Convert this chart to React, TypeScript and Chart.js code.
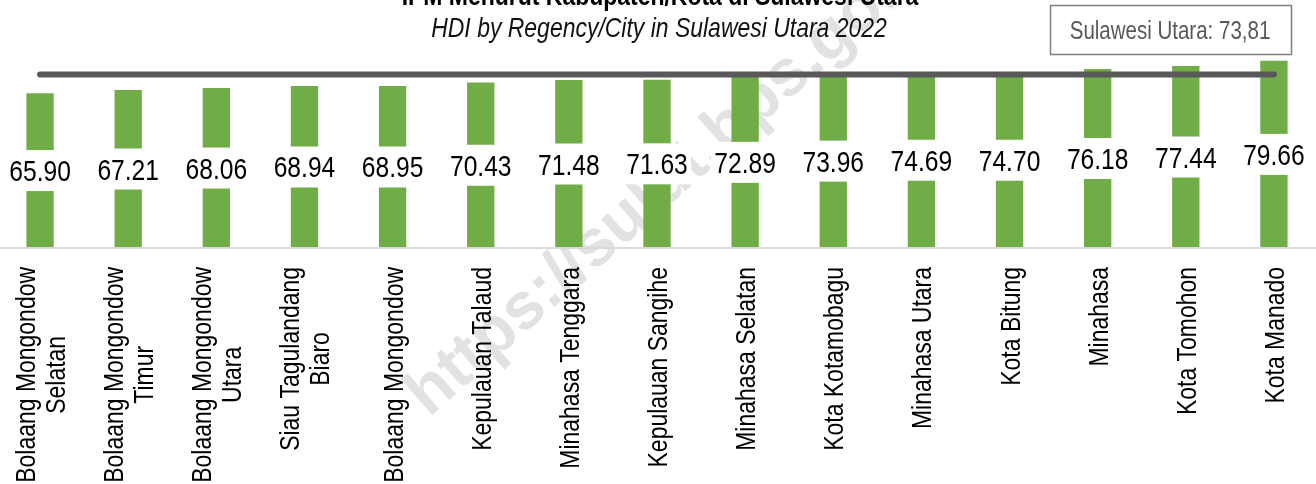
import React, { useEffect, useRef } from "react";
import { Chart, registerables } from "chart.js";

Chart.register(...registerables);

const categories: (string | string[])[] = [
  ["Bolaang Mongondow", "Selatan"],
  ["Bolaang Mongondow", "Timur"],
  ["Bolaang Mongondow", "Utara"],
  ["Siau Tagulandang", "Biaro"],
  "Bolaang Mongondow",
  "Kepulauan Talaud",
  "Minahasa Tenggara",
  "Kepulauan Sangihe",
  "Minahasa Selatan",
  "Kota Kotamobagu",
  "Minahasa Utara",
  "Kota Bitung",
  "Minahasa",
  "Kota Tomohon",
  "Kota Manado",
];

const hdiValues: number[] = [
  65.9, 67.21, 68.06, 68.94, 68.95, 70.43, 71.48, 71.63, 72.89, 73.96, 74.69,
  74.7, 76.18, 77.44, 79.66,
];

const provinceValue = 73.81;
const titleText = "IPM Menurut Kabupaten/Kota di Sulawesi Utara";
const subtitleText = "HDI by Regency/City in Sulawesi Utara 2022";
const provinceLabel = "Sulawesi Utara: 73,81";
const watermarkText = "https://sulut.bps.go.id";

// canvas is shifted 4px to the left of the page
const OFF = 4;

let narrowAvail: boolean | null = null;
function detectNarrow(ctx: CanvasRenderingContext2D) {
  if (narrowAvail !== null) return narrowAvail;
  ctx.save();
  ctx.font = '100px "Liberation Sans Narrow"';
  const a = ctx.measureText("abcdefghijklmnop").width;
  ctx.font = '100px "Liberation Sans"';
  const b = ctx.measureText("abcdefghijklmnop").width;
  ctx.restore();
  narrowAvail = a < b * 0.9;
  return narrowAvail;
}

type TOpts = {
  size: number;
  weight?: string;
  italic?: boolean;
  color?: string;
  align?: CanvasTextAlign;
  baseline?: CanvasTextBaseline;
  angle?: number;
  narrow?: boolean;
};

function setFont(ctx: CanvasRenderingContext2D, o: TOpts) {
  const nar = o.narrow !== false;
  const useNarrow = nar && detectNarrow(ctx);
  const family = useNarrow
    ? '"Liberation Sans Narrow", "Arial Narrow", sans-serif'
    : '"Liberation Sans", Arial, sans-serif';
  ctx.font = `${o.italic ? "italic " : ""}${o.weight || "normal"} ${o.size}px ${family}`;
  return nar && !useNarrow ? 0.82 : 1;
}

function measure(ctx: CanvasRenderingContext2D, text: string, o: TOpts) {
  ctx.save();
  const sx = setFont(ctx, o);
  const w = ctx.measureText(text).width * sx;
  ctx.restore();
  return w;
}

function drawText(
  ctx: CanvasRenderingContext2D,
  text: string,
  x: number,
  y: number,
  o: TOpts
) {
  ctx.save();
  ctx.translate(x, y);
  if (o.angle) ctx.rotate(o.angle);
  const sx = setFont(ctx, o);
  ctx.scale(sx, 1);
  ctx.fillStyle = o.color || "#000";
  ctx.textAlign = o.align || "center";
  ctx.textBaseline = o.baseline || "alphabetic";
  ctx.fillText(text, 0, 0);
  ctx.restore();
}

const decorPlugin = {
  id: "decor",
  beforeDatasetsDraw(chart: any) {
    const ctx: CanvasRenderingContext2D = chart.ctx;
    // watermark
    const ang = (-41.5 * Math.PI) / 180;
    drawText(ctx, watermarkText, 675 + OFF, 176, {
      size: 66,
      weight: "bold",
      color: "rgba(170,170,170,0.34)",
      angle: ang,
      baseline: "middle",
      narrow: false,
    });
  },
  afterDatasetsDraw(chart: any) {
    const ctx: CanvasRenderingContext2D = chart.ctx;
    const area = chart.chartArea;
    const xScale = chart.scales.x;
    const yScale = chart.scales.y;
    const barMeta = chart.getDatasetMeta(1);

    // baseline axis
    ctx.save();
    ctx.strokeStyle = "#d9d9d9";
    ctx.lineWidth = 2;
    ctx.beginPath();
    ctx.moveTo(0, area.bottom);
    ctx.lineTo(chart.width, area.bottom);
    ctx.stroke();
    ctx.restore();

    // value labels with white boxes
    const base = yScale.getPixelForValue(0);
    hdiValues.forEach((v, i) => {
      const el = barMeta.data[i];
      const x = el.x;
      const mid = (el.y + base) / 2;
      ctx.save();
      ctx.fillStyle = "#ffffff";
      ctx.fillRect(x - 34, mid - 20.5, 68, 41);
      ctx.restore();
      drawText(ctx, v.toFixed(2), x, mid + 10.5, { size: 30, color: "#000" });
    });

    // category labels (rotated)
    const top = 267;
    const lineH = 30;
    categories.forEach((c, i) => {
      const lines = Array.isArray(c) ? c : [c];
      const x = xScale.getPixelForValue(i);
      const o: TOpts = { size: 28, color: "#000" };
      const maxW = Math.max(...lines.map((l) => measure(ctx, l, o)));
      const n = lines.length;
      lines.forEach((l, k) => {
        const off = (k - (n - 1) / 2) * lineH;
        ctx.save();
        ctx.translate(x + off, top);
        ctx.rotate(-Math.PI / 2);
        drawText(ctx, l, -maxW / 2, 10, { ...o, align: "center" });
        ctx.restore();
      });
    });

    // title & subtitle
    drawText(ctx, titleText, 660 + OFF, 5, { size: 28, weight: "bold", color: "#000" });
    drawText(ctx, subtitleText, 659 + OFF, 37, { size: 28, italic: true, color: "#111" });

    // province box
    ctx.save();
    ctx.strokeStyle = "#7f7f7f";
    ctx.lineWidth = 1.5;
    ctx.strokeRect(1050.5 + OFF, 5.5, 241, 49);
    ctx.restore();
    drawText(ctx, provinceLabel, 1170 + OFF, 39, { size: 25, color: "#595959" });
  },
};

export default function App() {
  const ref = useRef<HTMLCanvasElement | null>(null);
  useEffect(() => {
    document.body.style.overflow = "hidden";
    const canvas = ref.current;
    if (!canvas) return;
    const chart = new Chart(canvas, {
      type: "bar",
      data: {
        labels: categories.map((c) => (Array.isArray(c) ? c.join(" ") : c)),
        datasets: [
          {
            type: "line",
            data: categories.map(() => provinceValue),
            borderColor: "#595959",
            borderWidth: 6,
            borderCapStyle: "round",
            pointRadius: 0,
            fill: false,
            order: 0,
          } as any,
          {
            type: "bar",
            data: hdiValues,
            backgroundColor: "#70AD47",
            barPercentage: 0.31,
            categoryPercentage: 1,
            order: 1,
          },
        ],
      },
      options: {
        animation: false,
        responsive: true,
        maintainAspectRatio: false,
        layout: { padding: { top: 13, bottom: 236, left: 0, right: 0 } },
        scales: {
          x: { display: false, offset: true },
          y: { display: false, min: 0, max: 100 },
        },
        plugins: {
          legend: { display: false },
          tooltip: { enabled: false },
        },
      },
      plugins: [decorPlugin],
    });
    return () => chart.destroy();
  }, []);
  return (
    <div
      style={{
        position: "absolute",
        left: -OFF,
        top: 0,
        width: 1322,
        height: 484,
        background: "#fff",
      }}
    >
      <canvas ref={ref} />
    </div>
  );
}
